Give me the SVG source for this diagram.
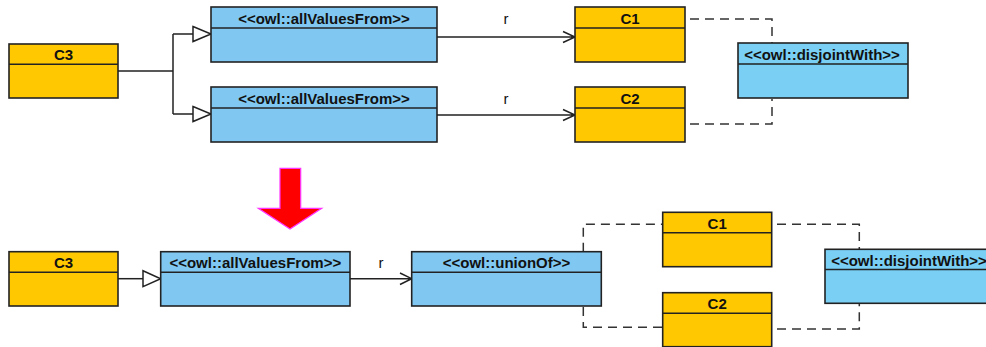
<svg xmlns="http://www.w3.org/2000/svg" width="986" height="347" viewBox="0 0 986 347">
<defs>
<style>
.box{stroke:#222;stroke-width:1.6}
.cls{fill:#ffc800}
.avf{fill:#80c8f2}
.dis{fill:#79cff4}
.sep{stroke:#222;stroke-width:1.6;fill:none}
.t{font-family:"Liberation Sans",Arial,sans-serif;font-size:15px;font-weight:bold;fill:#111;text-anchor:middle}
.lbl{font-family:"Liberation Sans",Arial,sans-serif;font-size:15px;fill:#111;text-anchor:middle}
.ln{stroke:#222;stroke-width:1.5;fill:none}
.dash{stroke:#333;stroke-width:1.5;fill:none;stroke-dasharray:9,6}
.tri{fill:#fff;stroke:#222;stroke-width:1.5}
</style>
</defs>
<g id="connectors">
<path class="ln" d="M118,71 H173 M173,34 V114 M173,34 H193 M173,114 H193"/>
<polygon class="tri" points="193,26.5 211,34 193,41.5"/>
<polygon class="tri" points="193,106.5 211,114 193,121.5"/>
<path class="ln" d="M437,37 H575 M563,31.5 L575,37 L563,42.5"/>
<path class="ln" d="M437,115 H575 M563,109.5 L575,115 L563,120.5"/>
<path class="dash" d="M690,19 H772 V43"/>
<path class="dash" d="M690,124 H772 V99"/>
<path class="ln" d="M118,278.7 H143"/>
<polygon class="tri" points="143,270.7 160.7,278.7 143,286.7"/>
<path class="ln" d="M350,278.7 H411.7 M400,273 L411.7,278.7 L400,284.5"/>
<path class="dash" d="M583.3,251.7 V224.3 H662.7"/>
<path class="dash" d="M583.3,307 V327.3 H662.7"/>
<path class="dash" d="M777,224.3 H859.3 V249.3"/>
<path class="dash" d="M777,329 H859.3 V303.3"/>
</g>
<g id="label-r1"><text class="lbl" x="506" y="24">r</text></g>
<g id="label-r2"><text class="lbl" x="506" y="104">r</text></g>
<g id="label-r3"><text class="lbl" x="381" y="268">r</text></g>
<g id="top-C3">
<rect class="box cls" x="9" y="44" width="109" height="54"/>
<line class="sep" x1="9" y1="64.3" x2="118" y2="64.3"/>
<text class="t" x="63.5" y="60">C3</text>
</g>
<g id="top-avf1">
<rect class="box avf" x="211" y="7" width="226" height="55"/>
<line class="sep" x1="211" y1="28" x2="437" y2="28"/>
<text class="t" x="324" y="24">&lt;&lt;owl::allValuesFrom&gt;&gt;</text>
</g>
<g id="top-avf2">
<rect class="box avf" x="211" y="87" width="226" height="55"/>
<line class="sep" x1="211" y1="108" x2="437" y2="108"/>
<text class="t" x="324" y="104">&lt;&lt;owl::allValuesFrom&gt;&gt;</text>
</g>
<g id="top-C1">
<rect class="box cls" x="575" y="7" width="110" height="55"/>
<line class="sep" x1="575" y1="28" x2="685" y2="28"/>
<text class="t" x="630" y="24">C1</text>
</g>
<g id="top-C2">
<rect class="box cls" x="575" y="87" width="110" height="55"/>
<line class="sep" x1="575" y1="108" x2="685" y2="108"/>
<text class="t" x="630" y="104">C2</text>
</g>
<g id="top-disjoint">
<rect class="box dis" x="738" y="43" width="170" height="55"/>
<line class="sep" x1="738" y1="64" x2="908" y2="64"/>
<text class="t" x="822" y="60">&lt;&lt;owl::disjointWith&gt;&gt;</text>
</g>
<g id="arrow-down">
<polygon points="280,168.3 300.7,168.3 300.7,208.3 321.7,208.3 290,229 258.3,208.3 280,208.3" fill="#ff0000" stroke="#ff33ff" stroke-width="1.2"/>
</g>
<g id="bottom-C3">
<rect class="box cls" x="9" y="251.7" width="109" height="54.3"/>
<line class="sep" x1="9" y1="272.3" x2="118" y2="272.3"/>
<text class="t" x="63.5" y="268">C3</text>
</g>
<g id="bottom-avf">
<rect class="box avf" x="160.7" y="251.7" width="189.3" height="54.3"/>
<line class="sep" x1="160.7" y1="272.3" x2="350" y2="272.3"/>
<text class="t" x="255.3" y="268">&lt;&lt;owl::allValuesFrom&gt;&gt;</text>
</g>
<g id="bottom-union">
<rect class="box avf" x="411.7" y="251.7" width="189.6" height="54.3"/>
<line class="sep" x1="411.7" y1="272.3" x2="601.3" y2="272.3"/>
<text class="t" x="506.5" y="268">&lt;&lt;owl::unionOf&gt;&gt;</text>
</g>
<g id="bottom-C1">
<rect class="box cls" x="662.7" y="212.3" width="109" height="54.4"/>
<line class="sep" x1="662.7" y1="232.7" x2="771.7" y2="232.7"/>
<text class="t" x="717.2" y="229">C1</text>
</g>
<g id="bottom-C2">
<rect class="box cls" x="662.7" y="292.7" width="109" height="54"/>
<line class="sep" x1="662.7" y1="313.3" x2="771.7" y2="313.3"/>
<text class="t" x="717.2" y="309">C2</text>
</g>
<g id="bottom-disjoint">
<rect class="box dis" x="825" y="249.3" width="170" height="54"/>
<line class="sep" x1="825" y1="269.5" x2="995" y2="269.5"/>
<text class="t" x="909" y="265.5">&lt;&lt;owl::disjointWith&gt;&gt;</text>
</g>
</svg>
